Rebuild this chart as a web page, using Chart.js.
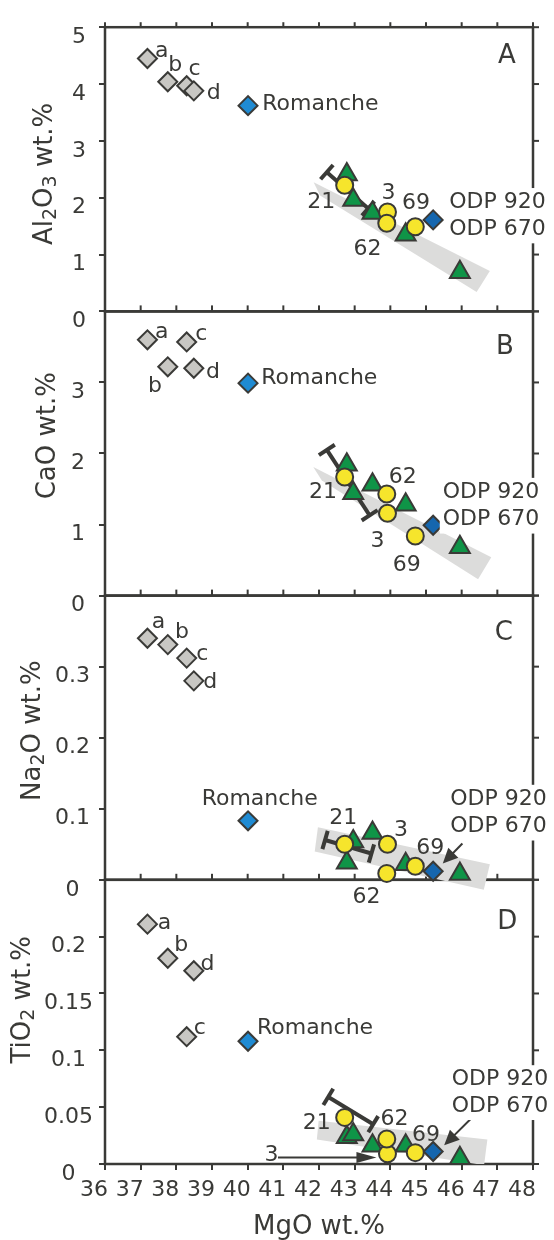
<!DOCTYPE html>
<html>
<head>
<meta charset="utf-8">
<script src="https://cdn.jsdelivr.net/npm/chart.js@4.4.0/dist/chart.umd.min.js"></script>
<style>
  html, body { margin: 0; padding: 0; background: #fff; }
  #wrap { width: 554px; height: 1240px; }
</style>
</head>
<body>
<div id="wrap"><canvas id="oxides" width="554" height="1240"></canvas></div>
<script>
// tick values
const mgoTicks = [36, 37, 38, 39, 40, 41, 42, 43, 44, 45, 46, 47, 48];
const al2o3Ticks = [0, 1, 2, 3, 4, 5];
const caoTicks = [0, 1, 2, 3, 4];
const na2oTicks = [0, 0.1, 0.2, 0.3, 0.4];
const tio2Ticks = [0, 0.05, 0.1, 0.15, 0.2, 0.25];

// MgO wt.% of each sample group (same in every panel)
const mgoRef = [37.19, 37.76, 38.29, 38.49];          // a, b, c, d
const mgoBlue = [40.01, 45.2];                        // Romanche, ODP 920/670
const mgoCircle = [42.72, 43.92, 43.9, 44.7];         // 21, 3, 62, 69
const mgoTriangle = [42.78, 42.96, 43.5, 44.43, 45.95];

// Al2O3
const al2o3Ref = [4.45, 4.04, 3.97, 3.88];
const al2o3Blue = [3.62, 1.61];
const al2o3Circle = [2.22, 1.75, 1.55, 1.49];
const al2o3Triangle = [2.41, 1.96, 1.73, 1.35, 0.69];
const al2o3BandMgo = [41.85, 46.79, 46.42, 42.03];
const al2o3Band = [2.27, 0.71, 0.34, 2.04];
const al2o3BarMgo = [42.22, 43.38];
const al2o3Bar = [2.45, 1.81];

// CaO
const caoRef = [3.6, 3.22, 3.57, 3.2];
const caoBlue = [2.99, 0.99];
const caoCircle = [1.67, 1.16, 1.43, 0.84];
const caoTriangle = [1.84, 1.44, 1.56, 1.28, 0.68];
const caoBandMgo = [41.84, 46.83, 46.46, 42.08];
const caoBand = [1.81, 0.54, 0.23, 1.62];
const caoBarMgo = [42.22, 43.42];
const caoBar = [2.05, 1.13];

// Na2O
const na2oRef = [0.34, 0.331, 0.312, 0.28];
const na2oBlue = [0.083, 0.012];
const na2oCircle = [0.05, 0.05, 0.009, 0.019];
const na2oTriangle = [0.024, 0.054, 0.066, 0.022, 0.008];
const na2oBandMgo = [41.97, 46.79, 46.62, 41.88];
const na2oBand = [0.074, 0.022, -0.014, 0.04];
const na2oBarMgo = [42.17, 43.47];
const na2oBar = [0.056, 0.037];

// TiO2
const tio2Ref = [0.211, 0.181, 0.112, 0.17];
const tio2Blue = [0.108, 0.011];
const tio2Circle = [0.041, 0.009, 0.022, 0.01];
const tio2Triangle = [0.0235, 0.026, 0.016, 0.016, 0.005];
const tio2BandMgo = [41.99, 46.72, 46.63, 41.94];
const tio2Band = [0.038, 0.0215, -0.001, 0.0215];
const tio2BarMgo = [42.26, 43.52];
const tio2Bar = [0.059, 0.035];

const ink = '#3a3a37';
const FAMILY = '"DejaVu Sans", sans-serif';

const panels = [
    { id: 'yA', ticks: al2o3Ticks, ref: al2o3Ref, blue: al2o3Blue, circle: al2o3Circle, triangle: al2o3Triangle,
      bandMgo: al2o3BandMgo, band: al2o3Band, barMgo: al2o3BarMgo, bar: al2o3Bar, pad: 13, hideTop: false },
    { id: 'yB', ticks: caoTicks, ref: caoRef, blue: caoBlue, circle: caoCircle, triangle: caoTriangle,
      bandMgo: caoBandMgo, band: caoBand, barMgo: caoBarMgo, bar: caoBar, pad: 14, hideTop: true },
    { id: 'yC', ticks: na2oTicks, ref: na2oRef, blue: na2oBlue, circle: na2oCircle, triangle: na2oTriangle,
      bandMgo: na2oBandMgo, band: na2oBand, barMgo: na2oBarMgo, bar: na2oBar, pad: 9, hideTop: true },
    { id: 'yD', ticks: tio2Ticks, ref: tio2Ref, blue: tio2Blue, circle: tio2Circle, triangle: tio2Triangle,
      bandMgo: tio2BandMgo, band: tio2Band, barMgo: tio2BarMgo, bar: tio2Bar, pad: 6, hideTop: true }
];

// axis titles (drawn rotated, with subscripts)
const yTitles = [
    { id: 'yA', x: 45, at: 2.42, parts: [['Al'], ['2', true], ['O'], ['3', true], [' wt.%']] },
    { id: 'yB', x: 48, at: 2.25, parts: [['CaO wt.%']] },
    { id: 'yC', x: 33, at: 0.21, parts: [['Na'], ['2', true], ['O wt.%']] },
    { id: 'yD', x: 23, at: 0.1445, parts: [['TiO'], ['2', true], [' wt.%']] }
];

// text labels: panel, MgO, value, text, align
const notes = [
    ['yA', 37.59, 4.58, 'a'], ['yA', 37.97, 4.33, 'b'], ['yA', 38.51, 4.26, 'c'], ['yA', 39.05, 3.84, 'd'],
    ['yA', 40.41, 3.64, 'Romanche', 'left'],
    ['yA', 42.06, 1.92, '21'], ['yA', 43.95, 2.07, '3'], ['yA', 44.72, 1.9, '69'], ['yA', 43.36, 1.1, '62'],

    ['yB', 37.59, 3.7, 'a'], ['yB', 37.4, 2.95, 'b'], ['yB', 38.7, 3.68, 'c'], ['yB', 39.03, 3.14, 'd'],
    ['yB', 40.38, 3.06, 'Romanche', 'left'],
    ['yB', 42.11, 1.46, '21'], ['yB', 43.64, 0.77, '3'], ['yB', 44.35, 1.66, '62'], ['yB', 44.46, 0.43, '69'],

    ['yC', 37.5, 0.362, 'a'], ['yC', 38.16, 0.349, 'b'], ['yC', 38.73, 0.317, 'c'], ['yC', 38.95, 0.278, 'd'],
    ['yC', 38.71, 0.114, 'Romanche', 'left'],
    ['yC', 42.68, 0.086, '21'], ['yC', 44.3, 0.069, '3'], ['yC', 43.33, -0.025, '62'], ['yC', 45.12, 0.044, '69'],

    ['yD', 37.67, 0.2117, 'a'], ['yD', 38.14, 0.192, 'b'], ['yD', 38.66, 0.1195, 'c'], ['yD', 38.87, 0.176, 'd'],
    ['yD', 40.26, 0.1195, 'Romanche', 'left'],
    ['yD', 41.94, 0.036, '21'], ['yD', 40.67, 0.008, '3'], ['yD', 44.12, 0.039, '62'], ['yD', 45.0, 0.025, '69']
];

// ODP labels sit on a white box over the right frame
const odpNotes = [
    ['yA', 45.65, 1.924, 1.444],
    ['yB', 45.47, 1.46, 1.07],
    ['yC', 45.68, 0.114, 0.075],
    ['yD', 45.72, 0.0746, 0.051]
];

const panelLetters = [['yA', 47.27, 4.49, 'A'], ['yB', 47.21, 3.5, 'B'], ['yC', 47.18, 0.347, 'C'], ['yD', 47.28, 0.213, 'D']];

// arrows: panel, from [MgO, value], to [MgO, value], head length, head half width
const arrows = [
    ['yC', [46.02, 0.051], [45.47, 0.023], 15, 7],
    ['yD', [46.35, 0.0426], [45.51, 0.0165], 15, 7],
    ['yD', [40.85, 0.0058], [43.61, 0.0058], 20, 5.5]
];

function pts(xs, ys) {
    return xs.map((x, i) => ({ x: x, y: ys[i] }));
}

const datasets = [];
panels.forEach(p => {
    datasets.push({
        label: p.id + ' band', data: pts(p.bandMgo, p.band), yAxisID: p.id,
        showLine: true, fill: 'shape', backgroundColor: '#dcdcdb', borderColor: 'rgba(0,0,0,0)',
        borderWidth: 0, pointRadius: 0, order: 10, clip: false
    });
    datasets.push({
        label: p.id + ' trend', data: pts(p.barMgo, p.bar), yAxisID: p.id, capped: true,
        showLine: true, fill: false, borderColor: ink, borderWidth: 4, pointRadius: 0, order: 9, clip: false
    });
    datasets.push({
        label: p.id + ' a-d', data: pts(mgoRef, p.ref), yAxisID: p.id,
        pointStyle: 'rectRot', pointRadius: 9.5, pointBackgroundColor: '#c8c7c3',
        pointBorderColor: ink, pointBorderWidth: 2, order: 5, clip: false
    });
    datasets.push({
        label: p.id + ' Romanche/ODP', data: pts(mgoBlue, p.blue), yAxisID: p.id,
        pointStyle: 'rectRot', pointRadius: 9.5, pointBackgroundColor: ['#1f8bd3', '#1566ae'],
        pointBorderColor: ink, pointBorderWidth: 2, order: 3, clip: false
    });
    datasets.push({
        label: p.id + ' triangles', data: pts(mgoTriangle, p.triangle), yAxisID: p.id,
        pointStyle: 'triangle', pointRadius: 11.5, pointBackgroundColor: '#0f9447',
        pointBorderColor: ink, pointBorderWidth: 2, order: 4, clip: false
    });
    datasets.push({
        label: p.id + ' circles', data: pts(mgoCircle, p.circle), yAxisID: p.id,
        pointStyle: 'circle', pointRadius: 8.5, pointBackgroundColor: '#f6e52c',
        pointBorderColor: ink, pointBorderWidth: 2, order: 2, clip: false
    });
});

const scales = {
    x: {
        type: 'linear', position: 'bottom', min: 36, max: 48,
        afterBuildTicks: s => { s.ticks = mgoTicks.map(v => ({ value: v })); },
        afterFit: s => { s.height = 76; },
        ticks: { font: { family: FAMILY, size: 22 }, color: ink, padding: 7, labelOffset: -11, autoSkip: false, maxRotation: 0 },
        grid: { drawOnChartArea: false, tickLength: 6, color: ink, lineWidth: 2 },
        border: { display: false },
        title: { display: true, text: 'MgO wt.%', color: ink, font: { family: FAMILY, size: 26, lineHeight: 1 }, padding: 0 }
    }
};
panels.forEach((p, i) => {
    scales[p.id] = {
        type: 'linear', position: 'left', stack: 'oxides', stackWeight: 1, weight: panels.length - i,
        min: p.ticks[0], max: p.ticks[p.ticks.length - 1],
        afterBuildTicks: s => { s.ticks = p.ticks.map(v => ({ value: v })); },
        afterFit: s => { s.width = 105; },
        ticks: {
            font: { family: FAMILY, size: 22 }, color: ink, crossAlign: 'center', padding: p.pad,
            labelOffset: 10, autoSkip: false,
            callback: (v, idx) => (p.hideTop && idx === p.ticks.length - 1) ? '' : String(v)
        },
        grid: { drawOnChartArea: false, tickLength: 6, color: ink, lineWidth: 2 },
        border: { display: false }
    };
});

function line(ctx, x1, y1, x2, y2) {
    ctx.beginPath();
    ctx.moveTo(x1, y1);
    ctx.lineTo(x2, y2);
    ctx.stroke();
}

// panel boxes and the tick marks chart.js does not draw itself
const framePlugin = {
    id: 'frames',
    beforeDatasetsDraw(chart) {
        const { ctx, chartArea: area, scales: sc } = chart;
        const xs = sc.x;
        ctx.save();
        ctx.strokeStyle = ink;
        ctx.lineWidth = 2;
        panels.forEach((p, i) => {
            const s = sc[p.id];
            s.ticks.forEach(t => {
                const py = s.getPixelForValue(t.value);
                line(ctx, area.right, py, area.right + 6, py);
            });
            if (i < panels.length - 1) {
                xs.ticks.forEach(t => {
                    const px = xs.getPixelForValue(t.value);
                    line(ctx, px, s.bottom - 6, px, s.bottom);
                });
            }
            if (i === 0) {
                xs.ticks.forEach(t => {
                    const px = xs.getPixelForValue(t.value);
                    line(ctx, px, s.top - 5, px, s.top);
                });
            }
        });
        ctx.lineWidth = 2.5;
        panels.forEach(p => {
            const s = sc[p.id];
            ctx.strokeRect(area.left, s.top, area.right - area.left, s.bottom - s.top);
        });
        ctx.restore();
    },
    afterDatasetDraw(chart, args) {
        const ds = chart.data.datasets[args.index];
        if (!ds.capped) return;
        const el = args.meta.data;
        const a = el[0], b = el[el.length - 1];
        const len = Math.hypot(b.x - a.x, b.y - a.y);
        const nx = -(b.y - a.y) / len * 9.5, ny = (b.x - a.x) / len * 9.5;
        const ctx = chart.ctx;
        ctx.save();
        ctx.strokeStyle = ink;
        ctx.lineWidth = 4;
        [a, b].forEach(e => line(ctx, e.x - nx, e.y - ny, e.x + nx, e.y + ny));
        ctx.restore();
    }
};

function drawRich(ctx, parts, cx, cy) {
    ctx.save();
    ctx.translate(cx, cy);
    ctx.rotate(-Math.PI / 2);
    ctx.textBaseline = 'middle';
    ctx.textAlign = 'left';
    const fontOf = sub => (sub ? 19 : 26) + 'px ' + FAMILY;
    const widths = parts.map(([t, sub]) => { ctx.font = fontOf(sub); return ctx.measureText(t).width; });
    let x = -widths.reduce((a, b) => a + b, 0) / 2;
    parts.forEach(([t, sub], i) => {
        ctx.font = fontOf(sub);
        ctx.fillText(t, x, sub ? 6 : 0);
        x += widths[i];
    });
    ctx.restore();
}

const notePlugin = {
    id: 'notes',
    afterDatasetsDraw(chart) {
        const { ctx, scales: sc } = chart;
        const xs = sc.x;
        ctx.save();
        ctx.fillStyle = ink;
        ctx.strokeStyle = ink;

        arrows.forEach(([id, from, to, head, half]) => {
            const s = sc[id];
            const x1 = xs.getPixelForValue(from[0]), y1 = s.getPixelForValue(from[1]);
            const x2 = xs.getPixelForValue(to[0]), y2 = s.getPixelForValue(to[1]);
            const len = Math.hypot(x2 - x1, y2 - y1);
            const ux = (x2 - x1) / len, uy = (y2 - y1) / len;
            const bx = x2 - ux * head, by = y2 - uy * head;
            ctx.lineWidth = 2;
            line(ctx, x1, y1, bx + ux * 2, by + uy * 2);
            ctx.beginPath();
            ctx.moveTo(x2, y2);
            ctx.lineTo(bx - uy * half, by + ux * half);
            ctx.lineTo(bx + uy * half, by - ux * half);
            ctx.closePath();
            ctx.fill();
        });

        ctx.textBaseline = 'middle';
        ctx.font = '22px ' + FAMILY;
        notes.forEach(([id, x, v, text, align]) => {
            ctx.textAlign = align || 'center';
            ctx.fillText(text, xs.getPixelForValue(x), sc[id].getPixelForValue(v));
        });

        odpNotes.forEach(([id, x, v1, v2]) => {
            const s = sc[id];
            const px = xs.getPixelForValue(x);
            const y1 = s.getPixelForValue(v1), y2 = s.getPixelForValue(v2);
            const w = Math.max(ctx.measureText('ODP 920').width, ctx.measureText('ODP 670').width);
            ctx.fillStyle = '#fff';
            ctx.fillRect(px - 3, y1 - 14, w + 6, y2 - y1 + 28);
            ctx.fillStyle = ink;
            ctx.textAlign = 'left';
            ctx.fillText('ODP 920', px, y1);
            ctx.fillText('ODP 670', px, y2);
        });

        ctx.font = '26px ' + FAMILY;
        ctx.textAlign = 'center';
        panelLetters.forEach(([id, x, v, text]) => {
            ctx.fillText(text, xs.getPixelForValue(x), sc[id].getPixelForValue(v));
        });

        yTitles.forEach(t => drawRich(ctx, t.parts, t.x, sc[t.id].getPixelForValue(t.at)));
        ctx.restore();
    }
};

new Chart(document.getElementById('oxides'), {
    type: 'scatter',
    data: { datasets: datasets },
    options: {
        responsive: false,
        animation: false,
        devicePixelRatio: 1,
        events: [],
        layout: { padding: { left: 0, right: 18, top: 15, bottom: 0 } },
        scales: scales,
        plugins: { legend: { display: false }, tooltip: { enabled: false } }
    },
    plugins: [framePlugin, notePlugin]
});
</script>
</body>
</html>
